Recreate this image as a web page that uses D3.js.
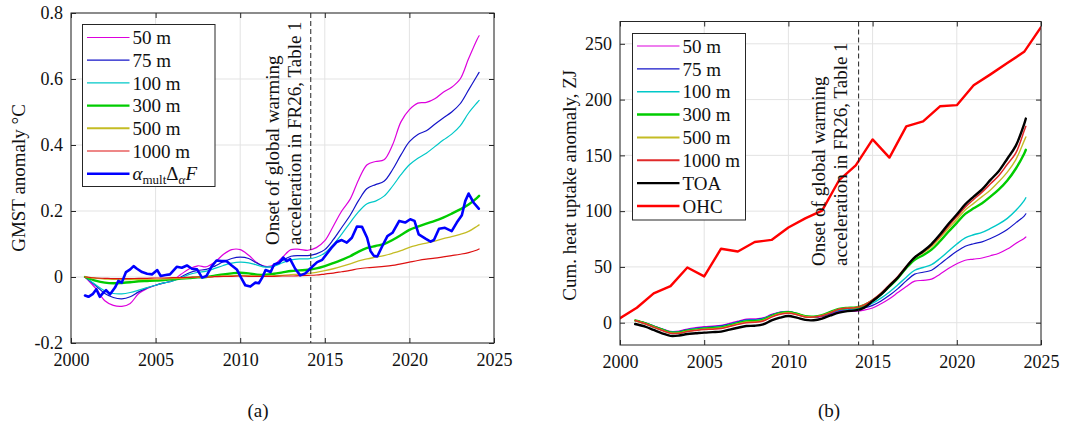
<!DOCTYPE html>
<html><head><meta charset="utf-8">
<script src="https://cdn.jsdelivr.net/npm/d3@7"></script>
<style>
html,body{margin:0;padding:0;background:#fff;}
svg{display:block;}
</style></head><body>
<svg id="c" width="1066" height="432"></svg>
<script>
// ---------------- DATA ----------------
const xTicks = [2000, 2005, 2010, 2015, 2020, 2025];
const yTicksA = [-0.2, 0, 0.2, 0.4, 0.6, 0.8];
const yTicksB = [0, 50, 100, 150, 200, 250];
const onsetYear = 2014.17;

const legendA = ["50 m", "75 m", "100 m", "300 m", "500 m", "1000 m", "ALPHA"];
const legendB = ["50 m", "75 m", "100 m", "300 m", "500 m", "1000 m", "TOA", "OHC"];

// Panel (a): GMST anomaly (°C)
const yearsA = [2000.83,2001.5,2002,2002.5,2003,2003.5,2004,2004.5,2005,2005.5,2006,2006.5,2007,2007.5,2008,2008.5,2009,2009.5,2010,2010.5,2011,2011.5,2012,2012.5,2013,2013.5,2014,2014.5,2015,2015.5,2016,2016.5,2017,2017.5,2018,2018.5,2019,2019.5,2020,2020.5,2021,2021.5,2022,2022.5,2023,2023.5,2024,2024.12];
const gmst50 = [0,-0.037,-0.072,-0.086,-0.089,-0.08,-0.05,-0.035,-0.025,-0.018,-0.01,0.008,0.025,0.034,0.031,0.045,0.068,0.083,0.083,0.066,0.043,0.032,0.037,0.06,0.083,0.084,0.081,0.089,0.11,0.154,0.2,0.236,0.295,0.34,0.35,0.355,0.4,0.47,0.507,0.527,0.529,0.54,0.56,0.575,0.6,0.662,0.72,0.731];
const gmst75 = [0,-0.028,-0.05,-0.062,-0.066,-0.06,-0.045,-0.033,-0.025,-0.018,-0.012,0.0,0.013,0.02,0.023,0.033,0.046,0.056,0.06,0.056,0.042,0.031,0.033,0.05,0.063,0.065,0.065,0.07,0.083,0.113,0.15,0.187,0.232,0.268,0.28,0.29,0.325,0.37,0.41,0.432,0.443,0.463,0.482,0.5,0.525,0.567,0.61,0.62];
const gmst100 = [0,-0.025,-0.042,-0.05,-0.051,-0.047,-0.04,-0.032,-0.025,-0.018,-0.012,-0.003,0.008,0.014,0.018,0.026,0.035,0.042,0.045,0.043,0.036,0.03,0.033,0.043,0.052,0.055,0.055,0.06,0.073,0.098,0.13,0.165,0.198,0.222,0.23,0.245,0.275,0.31,0.34,0.36,0.375,0.395,0.415,0.433,0.458,0.497,0.528,0.535];
const gmst300 = [0,-0.012,-0.017,-0.019,-0.018,-0.016,-0.013,-0.012,-0.011,-0.009,-0.007,-0.005,-0.003,-0.001,0.0,0.004,0.008,0.011,0.013,0.011,0.007,0.007,0.01,0.014,0.018,0.02,0.022,0.026,0.033,0.042,0.052,0.063,0.077,0.088,0.094,0.1,0.112,0.127,0.143,0.153,0.162,0.17,0.18,0.192,0.205,0.22,0.24,0.246];
const gmst500 = [0,-0.004,-0.006,-0.007,-0.008,-0.008,-0.008,-0.007,-0.007,-0.006,-0.005,-0.004,-0.002,-0.001,0.0,0.002,0.003,0.004,0.005,0.004,0.003,0.003,0.004,0.005,0.007,0.009,0.011,0.014,0.019,0.025,0.032,0.04,0.049,0.055,0.06,0.065,0.072,0.08,0.09,0.097,0.103,0.109,0.116,0.122,0.129,0.138,0.154,0.158];
const gmst1000 = [0,-0.003,-0.004,-0.005,-0.005,-0.005,-0.004,-0.004,-0.003,-0.003,-0.002,-0.002,-0.001,0.0,0.0,0.001,0.002,0.002,0.003,0.002,0.002,0.002,0.002,0.003,0.003,0.004,0.005,0.006,0.009,0.012,0.016,0.02,0.025,0.028,0.03,0.032,0.035,0.04,0.045,0.05,0.054,0.057,0.061,0.065,0.069,0.074,0.082,0.085];
const forcYears = [2000.83,2001.03,2001.3,2001.5,2001.7,2001.9,2002.07,2002.3,2002.6,2002.8,2003.0,2003.25,2003.5,2003.7,2003.9,2004.2,2004.5,2004.8,2005.1,2005.3,2005.6,2005.85,2006.25,2006.55,2006.85,2007.15,2007.45,2007.75,2008.0,2008.3,2008.6,2008.9,2009.2,2009.5,2009.8,2010.05,2010.3,2010.6,2010.9,2011.1,2011.3,2011.5,2011.8,2012.0,2012.3,2012.55,2012.75,2012.95,2013.25,2013.55,2013.85,2014.25,2014.55,2014.85,2015.1,2015.4,2015.7,2016.0,2016.3,2016.6,2016.9,2017.2,2017.5,2017.7,2017.9,2018.1,2018.4,2018.7,2019.0,2019.4,2019.75,2020.05,2020.3,2020.55,2020.95,2021.25,2021.45,2021.75,2022.1,2022.5,2022.8,2023.1,2023.3,2023.5,2023.8,2024.1];
const forcGmst = [-0.056,-0.06,-0.051,-0.037,-0.06,-0.048,-0.04,-0.053,-0.032,-0.012,-0.017,0.015,0.023,0.033,0.025,0.015,0.01,0.008,0.021,0.003,0.006,0.008,0.031,0.028,0.035,0.025,0.023,-0.002,0.003,0.031,0.05,0.048,0.048,0.035,0.023,-0.002,-0.025,-0.029,-0.017,-0.019,-0.002,0.021,0.015,0.038,0.043,0.059,0.048,0.054,0.025,0.005,0.011,0.031,0.045,0.052,0.069,0.089,0.106,0.112,0.104,0.119,0.153,0.152,0.119,0.079,0.064,0.062,0.094,0.124,0.134,0.17,0.165,0.175,0.17,0.129,0.116,0.107,0.112,0.146,0.149,0.139,0.165,0.187,0.23,0.253,0.225,0.207];

// Panel (b): cumulative heat uptake anomaly (ZJ)
const yearsB = [2000.9,2001.5,2002,2002.5,2003,2003.5,2004,2004.5,2005,2005.5,2006,2006.5,2007,2007.5,2008,2008.5,2009,2009.5,2010,2010.5,2011,2011.5,2012,2012.5,2013,2013.5,2014,2014.5,2015,2015.5,2016,2016.5,2017,2017.5,2018,2018.5,2019,2019.5,2020,2020.5,2021,2021.5,2022,2022.5,2023,2023.5,2024,2024.1];
const heat50 = [2,-0.2,-2.8,-5.4,-7.8,-7.5,-5.7,-4.5,-3.6,-3,-2.3,-0.6,1.4,3.2,3.4,4.3,7.4,9.5,10.2,8.2,5.5,4.7,5.5,7.8,10,10.4,10.4,11.3,13.2,17,21.5,27,32.5,37.2,38,39,43.5,48.5,52.8,56,57,58,60,62.3,66,71,75.5,76.8];
const heat75 = [2,-0.3,-3,-5.7,-8.1,-7.9,-6.2,-5,-4.2,-3.6,-2.9,-1.2,0.8,2.6,2.8,3.8,7,9.3,10,8.2,5.7,5,6,8.5,11,11.6,11.7,13.2,15.5,19.5,24.5,30.5,37.5,43.5,45.2,47,52.5,58.5,64,68.5,70.8,72.5,75.5,79,83.5,89.5,95.5,97.6];
const heat100 = [2,-0.4,-3.2,-6,-8.4,-8.3,-6.7,-5.6,-4.7,-4.2,-3.5,-1.8,0.2,2,2.2,3.3,6.6,9,9.8,8.2,5.8,5.2,6.3,9,11.6,12.3,12.5,14.3,17.5,22,27.5,34,40.8,47,49.5,52,57.5,64,70.5,76,78.8,81,84.5,88.5,93.5,100.5,109.5,112];
const heat300 = [2,-0.6,-3.5,-6.3,-8.8,-8.8,-7.2,-6.2,-5.3,-4.8,-4.2,-2.5,-0.5,1.2,1.4,2.6,6,8.5,9.5,8,5.8,5.4,6.7,9.6,12.4,13.3,13.6,15.8,19.8,25.5,32.5,40,49,56.5,60.5,65.5,73,81.5,89.5,97.5,102.5,107,113,119.5,127.5,138,151.5,155];
const heat500 = [2,-0.8,-3.8,-6.7,-9.2,-9.2,-7.6,-6.6,-5.8,-5.3,-4.7,-3,-1,0.6,0.8,2,5.5,8,9,7.6,5.5,5.2,6.5,9.3,12.2,13.2,13.6,16,20.3,26,33.5,41,50,58,62.5,68,76,84.5,92.5,101,107,113,119,126.5,135,146,163,166.5];
const heat1000 = [2,-1,-4,-7,-9.5,-9.5,-8,-7,-6.2,-5.8,-5.2,-3.5,-1.5,0,0.3,1.5,5,7.5,8.5,7.2,5.2,5,6.2,9,12,13,13.5,16,20.5,26.5,34,41.5,50.5,58.5,63.5,69.5,77.5,86.5,95,103.5,110.5,117,124.5,132,142,152,172,176];
const heatTOA = [-1.2,-3.5,-6.5,-9.5,-11.8,-11.5,-10.1,-9.5,-8.9,-8.5,-8,-6.2,-4.5,-3,-2.7,-1.5,2,4.5,6,4.5,2.5,2.2,3.7,6.5,9,10.4,11,13.5,19.3,25.3,33,40.5,50,58.5,64,70.5,79,88.5,97,106,113,119.5,128,136,147,158.5,178,183];
const ohcYears = [2000,2001,2002,2003,2004,2005,2006,2007,2008,2009,2010,2011,2012,2013,2014,2015,2016,2017,2018,2019,2020,2021,2022,2023,2024,2025];
const ohcValues = [4,13.4,26.3,32.8,49.5,41.5,66.3,63.8,72.3,74.2,85.3,93.5,100.5,127.5,141,164.3,148,176,180.5,194,195,212.8,222.6,232.7,242.8,264.9];

// ---------------- FONT PICK ----------------
function hasFont(name) {
  const c = document.createElement("canvas").getContext("2d");
  const s = "mmmmmmmmmmlli WWW 0123456789";
  c.font = "40px monospace"; const w0 = c.measureText(s).width;
  c.font = `40px "${name}", monospace`; const w1 = c.measureText(s).width;
  return Math.abs(w0 - w1) > 0.5;
}
let FONTNAME = "Liberation Serif", FS = 1;
if (!hasFont("Liberation Serif")) {
  if (hasFont("Noto Serif")) { FONTNAME = "Noto Serif"; FS = 0.88; }
  else { FONTNAME = "DejaVu Serif"; FS = 0.86; }
}
const FONT = `"${FONTNAME}", "DejaVu Serif", serif`;
const fs = v => (v * FS).toFixed(2) + "px";

// ---------------- DRAWING ----------------
const AX = "#262626";
const svg = d3.select("#c");
svg.append("rect").attr("width", 1066).attr("height", 432).attr("fill", "#fff");

function drawPanel(o) {
  const g = svg.append("g");
  const x = d3.scaleLinear().domain([2000, 2025]).range([o.left, o.right]);
  const y = d3.scaleLinear().domain(o.yDomain).range([o.bottom, o.top]);

  g.append("g").selectAll("line").data(xTicks).join("line")
    .attr("x1", d => x(d)).attr("x2", d => x(d)).attr("y1", o.top).attr("y2", o.bottom)
    .attr("stroke", "#e3e3e3").attr("stroke-width", 1);
  g.append("g").selectAll("line").data(o.yTicks).join("line")
    .attr("y1", d => y(d)).attr("y2", d => y(d)).attr("x1", o.left).attr("x2", o.right)
    .attr("stroke", "#e3e3e3").attr("stroke-width", 1);

  svg.append("clipPath").attr("id", "clip" + o.id).append("rect")
    .attr("x", o.left).attr("y", o.top).attr("width", o.right - o.left).attr("height", o.bottom - o.top);
  const lg = g.append("g").attr("clip-path", `url(#clip${o.id})`);
  o.series.forEach(s => {
    const pts = s.x.map((xx, i) => [xx, s.y[i]]);
    lg.append("path").datum(pts)
      .attr("fill", "none").attr("stroke", s.color).attr("stroke-width", s.width)
      .attr("stroke-linejoin", "round").attr("stroke-linecap", "round")
      .attr("d", d3.line().x(d => x(d[0])).y(d => y(d[1])).curve(s.curve));
  });

  g.append("line").attr("x1", x(onsetYear)).attr("x2", x(onsetYear))
    .attr("y1", o.top).attr("y2", o.bottom)
    .attr("stroke", "#222").attr("stroke-width", 1).attr("stroke-dasharray", "5,3");

  const ann = ["Onset of global warming", "acceleration in FR26, Table 1"];
  ann.forEach((t, i) => {
    g.append("text").attr("transform", `translate(${o.annX + i * 22},${o.annY}) rotate(-90)`)
      .style("font-family", FONT).style("font-size", fs(19)).attr("fill", "#111").text(t);
  });

  const styleAxis = (sel) => {
    sel.attr("font-family", null).attr("font-size", null);
    sel.select(".domain").remove();
    sel.selectAll("line").attr("stroke", AX);
    sel.selectAll("text").attr("fill", "#111").style("font-family", FONT).style("font-size", fs(18));
  };
  g.append("g").attr("transform", `translate(0,${o.bottom})`)
    .call(d3.axisBottom(x).tickValues(xTicks).tickSize(-5).tickPadding(10).tickFormat(d3.format("d"))).call(styleAxis);
  g.append("g").attr("transform", `translate(0,${o.top})`)
    .call(d3.axisTop(x).tickValues(xTicks).tickSize(-5).tickFormat("")).call(styleAxis);
  g.append("g").attr("transform", `translate(${o.left},0)`)
    .call(d3.axisLeft(y).tickValues(o.yTicks).tickSize(-5).tickPadding(8).tickFormat(o.yFormat)).call(styleAxis);
  g.append("g").attr("transform", `translate(${o.right},0)`)
    .call(d3.axisRight(y).tickValues(o.yTicks).tickSize(-5).tickFormat("")).call(styleAxis);
  g.append("rect").attr("x", o.left).attr("y", o.top)
    .attr("width", o.right - o.left).attr("height", o.bottom - o.top)
    .attr("fill", "none").attr("stroke", AX).attr("stroke-width", 1);

  g.append("text").attr("transform", `translate(${o.ylabX},${(o.top + o.bottom) / 2 + o.ylabDY}) rotate(-90)`)
    .attr("text-anchor", "middle").style("font-family", FONT).style("font-size", fs(19)).attr("fill", "#111")
    .text(o.ylabel);

  g.append("text").attr("x", o.tagX).attr("y", 417).attr("text-anchor", "middle")
    .style("font-family", FONT).style("font-size", fs(19)).attr("fill", "#111").text(o.tag);

  const L = o.legend;
  const lgd = g.append("g");
  lgd.append("rect").attr("x", L.x).attr("y", L.y).attr("width", L.w).attr("height", L.h)
    .attr("fill", "#fff").attr("stroke", AX).attr("stroke-width", 1);
  o.legendLabels.forEach((lab, i) => {
    const s = o.series[i];
    const yy = L.y0 + i * L.dy;
    lgd.append("line").attr("x1", L.lx1).attr("x2", L.lx2).attr("y1", yy).attr("y2", yy)
      .attr("stroke", s.color).attr("stroke-width", s.legWidth || s.width);
    const t = lgd.append("text").attr("x", L.lx2 + 3).attr("y", yy).attr("dy", "0.35em")
      .style("font-family", FONT).style("font-size", fs(19)).attr("fill", "#111");
    if (lab === "ALPHA") {
      t.append("tspan").attr("font-style", "italic").text("α");
      t.append("tspan").style("font-size", fs(13)).attr("dy", 4).text("mult");
      t.append("tspan").attr("dy", -4).text("Δ");
      t.append("tspan").style("font-size", fs(13)).attr("font-style", "italic").attr("dy", 4).text("α");
      t.append("tspan").attr("dy", -4).attr("font-style", "italic").text("F");
    } else {
      t.text(lab);
    }
  });
}

const smooth = d3.curveCatmullRom.alpha(0.5);

drawPanel({
  id: "a", left: 71, right: 494, top: 13, bottom: 343,
  yDomain: [-0.2, 0.8], yTicks: yTicksA,
  yFormat: d => (d === 0 ? "0" : d3.format(".1f")(d).replace("−", "-")),
  annX: 279, annY: 245,
  ylabX: 25, ylabDY: 0, ylabel: "GMST anomaly °C",
  tagX: 258, tag: "(a)",
  legendLabels: legendA,
  legend: { x: 82.5, y: 24.5, w: 132.5, h: 162, y0: 37.5, dy: 22.7, lx1: 87, lx2: 129.5 },
  series: [
    { x: yearsA, y: gmst50, color: "#dd00dd", width: 1.2, curve: smooth },
    { x: yearsA, y: gmst75, color: "#1414c8", width: 1.2, curve: smooth },
    { x: yearsA, y: gmst100, color: "#00c8c8", width: 1.2, curve: smooth },
    { x: yearsA, y: gmst300, color: "#00cc00", width: 2.4, curve: smooth },
    { x: yearsA, y: gmst500, color: "#c4bc24", width: 1.3, legWidth: 2, curve: smooth },
    { x: yearsA, y: gmst1000, color: "#dd1111", width: 1.2, curve: smooth },
    { x: forcYears, y: forcGmst, color: "#0000ff", width: 2.6, curve: d3.curveLinear }
  ]
});

drawPanel({
  id: "b", left: 620, right: 1041, top: 21.5, bottom: 345,
  yDomain: [-20, 270], yTicks: yTicksB,
  yFormat: d3.format("d"),
  annX: 825, annY: 266,
  ylabX: 576, ylabDY: 2, ylabel: "Cum. heat uptake anomaly, ZJ",
  tagX: 829, tag: "(b)",
  legendLabels: legendB,
  legend: { x: 632.5, y: 33.5, w: 113, h: 186.5, y0: 46, dy: 22.85, lx1: 637, lx2: 679.5 },
  series: [
    { x: yearsB, y: heat50, color: "#dd00dd", width: 1.2, curve: smooth },
    { x: yearsB, y: heat75, color: "#1414c8", width: 1.2, curve: smooth },
    { x: yearsB, y: heat100, color: "#00c8c8", width: 1.4, curve: smooth },
    { x: yearsB, y: heat300, color: "#00cc00", width: 2.4, curve: smooth },
    { x: yearsB, y: heat500, color: "#c4bc24", width: 1.4, legWidth: 2, curve: smooth },
    { x: yearsB, y: heat1000, color: "#e02a2a", width: 1.5, legWidth: 2.2, curve: smooth },
    { x: yearsB, y: heatTOA, color: "#000000", width: 2.4, curve: smooth },
    { x: ohcYears, y: ohcValues, color: "#ff0000", width: 2.4, curve: d3.curveLinear }
  ]
});
</script></body></html>
